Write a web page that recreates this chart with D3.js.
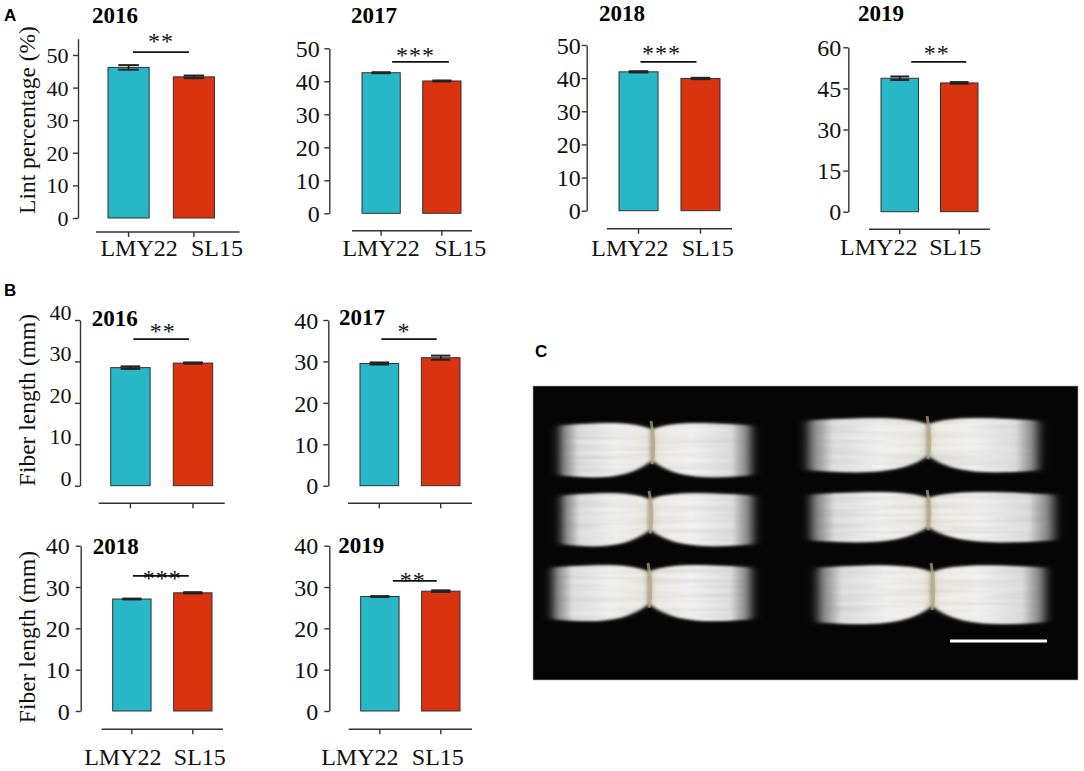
<!DOCTYPE html>
<html>
<head>
<meta charset="utf-8">
<script src="https://cdn.jsdelivr.net/npm/d3@7"></script>
<style>
body { margin: 0; background: #fff; }
svg text { font-family: "Liberation Serif", "Times New Roman", serif; }
</style>
</head>
<body>
<svg id="fig" width="1084" height="771"></svg>
<script>
// data
var groups = ["LMY22", "SL15"];

var lintYears = ["2016", "2017", "2018", "2019"];
var lintMeans = [[46.2, 43.3], [42.6, 40.1], [41.9, 39.9], [48.7, 47.0]];
var lintErrors = [[0.7, 0.4], [0.15, 0.15], [0.2, 0.2], [0.65, 0.3]];
var lintStars = ["**", "***", "***", "**"];
var lintSigLevel = [50.9, 45.9, 44.9, 54.7];
var lintTicks = [[0, 10, 20, 30, 40, 50], [0, 10, 20, 30, 40, 50], [0, 10, 20, 30, 40, 50], [0, 15, 30, 45, 60]];
var lintMax = [55, 50, 50, 60];

var fiberYears = ["2016", "2017", "2018", "2019"];
var fiberMeans = [[28.5, 29.6], [29.5, 30.9], [27.1, 28.6], [27.7, 29.0]];
var fiberErrors = [[0.3, 0.15], [0.25, 0.5], [0.1, 0.15], [0.1, 0.2]];
var fiberStars = ["**", "*", "***", "**"];
var fiberSigLevel = [35.4, 35.4, 32.7, 31.5];
var fiberTicks = [0, 10, 20, 30, 40];
var fiberMax = 40;

var colors = ["#27b7c7", "#d9340f"];

// panel placement (pixels)
var lintLayout = [
    {axisX: 78, y0: 218, yTop: 38.7, bars: [108, 214.5], ext: [12, 25], xAxisY: 232, title: [92, 23], tickFont: 22, pad: 4.5, tickDy: 0, starDx: 0, starDy: -3, sigDx: [4.5, -5], labelDx: [10.5, 23], labelY: 256},
    {axisX: 329.3, y0: 213.3, yTop: 48.3, bars: [362, 461], ext: [10, 11], xAxisY: 230.7, title: [351, 23], tickFont: 24, pad: 4.5, tickDy: 0, starDx: -5, starDy: 1, sigDx: [11, 7], labelDx: [0, 18.5], labelY: 256},
    {axisX: 586.7, y0: 210.7, yTop: 45, bars: [619, 720], ext: [12, 12], xAxisY: 228.7, title: [599, 21], tickFont: 24, pad: 1, tickDy: 0, starDx: -7, starDy: -1, sigDx: [2, -4], labelDx: [-8.6, 7.3], labelY: 256},
    {axisX: 848.3, y0: 211.7, yTop: 47.3, bars: [881, 978], ext: [12, 12], xAxisY: 229.3, title: [858, 21], tickFont: 24, pad: 2, tickDy: 0, starDx: -2, starDy: -1, sigDx: [11.5, 7], labelDx: [-21, -4], labelY: 255}
];
var fiberLayout = [
    {axisX: 80, y0: 485.7, yTop: 320, bars: [110.7, 212.7], ext: [12, 12], xAxisY: 503.3, title: [91.7, 326], tickFont: 22, pad: 3.5, tickDy: -8, starDx: 1.5, starDy: 0, sigDx: [3, -4], labelDx: null},
    {axisX: 328.3, y0: 485.7, yTop: 320, bars: [360, 460], ext: [12, 12], xAxisY: 503.3, title: [339, 325], tickFont: 24, pad: 5, tickDy: 0, starDx: -5, starDy: 0, sigDx: [2, -4], labelDx: null},
    {axisX: 80.7, y0: 711, yTop: 545.7, bars: [112.7, 212], ext: [11, 11], xAxisY: 729.3, title: [92.7, 554], tickFont: 24, pad: 6, tickDy: 0, starDx: 1.5, starDy: 10, sigDx: [1, -4], labelDx: [-9, 7], labelY: 765},
    {axisX: 329.3, y0: 711, yTop: 545.7, bars: [360.7, 460], ext: [12, 12], xAxisY: 729.3, title: [338.3, 553], tickFont: 24, pad: 6, tickDy: 0, starDx: -2, starDy: 7, sigDx: [13, -4], labelDx: [-20, -3], labelY: 765}
];

var svg = d3.select("#fig");

function drawPanel(L, year, means, errors, stars, sigLevel, ticks, max) {
    var g = svg.append("g");
    var x = d3.scaleBand().domain(groups).range(L.bars).paddingInner(0.37).paddingOuter(0);
    var y = d3.scaleLinear().domain([0, max]).range([L.y0, L.yTop]);
    var bw = x.bandwidth();

    // y axis
    var ya = g.append("g")
        .attr("transform", "translate(" + L.axisX + ",0)")
        .call(d3.axisLeft(y).tickValues(ticks).tickSize(5).tickSizeOuter(0).tickPadding(L.pad));
    ya.attr("font-family", null).attr("font-size", null);
    ya.selectAll("path, line").attr("stroke", "#333").attr("stroke-width", 1.4);
    ya.selectAll("text")
        .attr("font-size", L.tickFont)
        .attr("fill", "#111")
        .attr("dy", "0.34em")
        .attr("transform", "translate(0," + L.tickDy + ")");

    // x axis (line below the bars)
    var xa = g.append("g")
        .attr("transform", "translate(0," + L.xAxisY + ")")
        .call(d3.axisBottom(x).tickSize(5).tickSizeOuter(0).tickFormat(""));
    xa.select(".domain").attr("d", "M" + (L.bars[0] - L.ext[0]) + ",0H" + (L.bars[1] + L.ext[1]));
    xa.selectAll("path, line").attr("stroke", "#333").attr("stroke-width", 1.4);

    if (L.labelDx) {
        g.selectAll(".xlab")
            .data(groups)
            .enter()
            .append("text")
            .attr("x", function (d, i) { return x(d) + bw / 2 + L.labelDx[i]; })
            .attr("y", L.labelY)
            .attr("text-anchor", "middle")
            .attr("font-size", 24)
            .attr("fill", "#111")
            .text(function (d) { return d; });
    }

    // bars
    g.selectAll(".bar")
        .data(groups)
        .enter()
        .append("rect")
        .attr("x", function (d) { return x(d); })
        .attr("y", function (d, i) { return y(means[i]); })
        .attr("width", bw)
        .attr("height", function (d, i) { return y(0) - y(means[i]); })
        .attr("fill", function (d, i) { return colors[i]; })
        .attr("stroke", "#333")
        .attr("stroke-width", 1);

    // error bars
    groups.forEach(function (d, i) {
        var cx = x(d) + bw / 2;
        var lo = y(means[i] - errors[i]), hi = y(means[i] + errors[i]);
        g.append("line").attr("x1", cx).attr("x2", cx).attr("y1", lo).attr("y2", hi)
            .attr("stroke", "#111").attr("stroke-width", 1.5);
        [lo, hi].forEach(function (v) {
            g.append("line").attr("x1", cx - bw * 0.25).attr("x2", cx + bw * 0.25)
                .attr("y1", v).attr("y2", v)
                .attr("stroke", "#222").attr("stroke-width", 2);
        });
    });

    // significance
    var sx1 = x(groups[0]) + bw / 2 + L.sigDx[0];
    var sx2 = x(groups[1]) + bw / 2 + L.sigDx[1];
    var sy = y(sigLevel);
    g.append("line").attr("x1", sx1).attr("x2", sx2).attr("y1", sy).attr("y2", sy)
        .attr("stroke", "#111").attr("stroke-width", 1.8);
    g.append("text")
        .attr("x", (sx1 + sx2) / 2 + L.starDx)
        .attr("y", sy + L.starDy)
        .attr("text-anchor", "middle")
        .attr("font-size", 24)
        .attr("letter-spacing", 1)
        .attr("fill", "#111")
        .text(stars);

    // year title
    g.append("text")
        .attr("x", L.title[0])
        .attr("y", L.title[1])
        .attr("font-size", 23)
        .attr("font-weight", "bold")
        .attr("fill", "#000")
        .text(year);
}

lintLayout.forEach(function (L, i) {
    drawPanel(L, lintYears[i], lintMeans[i], lintErrors[i], lintStars[i], lintSigLevel[i], lintTicks[i], lintMax[i]);
});
fiberLayout.forEach(function (L, i) {
    drawPanel(L, fiberYears[i], fiberMeans[i], fiberErrors[i], fiberStars[i], fiberSigLevel[i], fiberTicks, fiberMax);
});

// axis titles
var yTitles = [["Lint percentage (%)", 27, 120], ["Fiber length (mm)", 27, 400], ["Fiber length (mm)", 27, 637]];
yTitles.forEach(function (t) {
    svg.append("text")
        .attr("transform", "translate(" + t[1] + "," + t[2] + ") rotate(-90)")
        .attr("text-anchor", "middle")
        .attr("dy", "0.35em")
        .attr("font-size", 23.5)
        .attr("fill", "#111")
        .text(t[0]);
});

// panel letters
[["A", 4, 21], ["B", 4, 296], ["C", 535, 357]].forEach(function (p) {
    svg.append("text")
        .attr("x", p[1]).attr("y", p[2])
        .style("font-size", "17px")
        .style("font-weight", "bold")
        .style("font-family", "'Liberation Sans', Arial, sans-serif")
        .text(p[0]);
});

// panel C: photo of fibre bundles, drawn with shapes
var defs = svg.append("defs");
function lobeGradient(id, flip) {
    var lg = defs.append("linearGradient").attr("id", id)
        .attr("x1", flip ? 1 : 0).attr("x2", flip ? 0 : 1).attr("y1", 0).attr("y2", 0);
    [[0, "#8a8a8a", 0.0], [0.08, "#c8c8c8", 0.55], [0.22, "#e8e8e8", 0.95], [0.6, "#f2f2f2", 1], [0.92, "#eeece6", 1], [1, "#ddd6c4", 1]]
        .forEach(function (s) {
            lg.append("stop").attr("offset", s[0]).attr("stop-color", s[1]).attr("stop-opacity", s[2]);
        });
}
lobeGradient("lobeL", false);
lobeGradient("lobeR", true);

var f = defs.append("filter").attr("id", "fuzz")
    .attr("x", "-8%").attr("y", "-20%").attr("width", "116%").attr("height", "140%");
f.append("feTurbulence").attr("type", "fractalNoise").attr("baseFrequency", "0.008 0.35")
    .attr("numOctaves", 2).attr("seed", 7).attr("result", "noise");
f.append("feColorMatrix").attr("in", "noise").attr("type", "matrix")
    .attr("values", "0 0 0 0 0  0 0 0 0 0  0 0 0 0 0  0.5 0 0 0 -0.2").attr("result", "streak");
f.append("feComposite").attr("in", "streak").attr("in2", "SourceGraphic").attr("operator", "in").attr("result", "streakIn");
var fm = f.append("feMerge").attr("result", "m");
fm.append("feMergeNode").attr("in", "SourceGraphic");
fm.append("feMergeNode").attr("in", "streakIn");
f.append("feGaussianBlur").attr("in", "m").attr("stdDeviation", "2 0.9");

defs.append("filter").attr("id", "halo").attr("x", "-15%").attr("y", "-30%").attr("width", "130%").attr("height", "160%")
    .append("feGaussianBlur").attr("stdDeviation", "5 2");

var photo = svg.append("g");
photo.append("rect")
    .attr("x", 533).attr("y", 386).attr("width", 545).attr("height", 294)
    .attr("fill", "#050505").attr("stroke", "#aaa").attr("stroke-width", 0.6);

// [left, right, top, bottom, waist]
var bundleBoxes = [
    [557, 754, 423, 478, 652], [805, 1041, 418, 473, 928],
    [559, 756, 493, 547, 650], [808, 1057, 492, 543, 928],
    [550, 754, 565, 622, 649], [815, 1048, 565, 625, 932]
];

// one half of a bundle: flat outer end, lower edge curving up into the pinched waist
function lobePath(xo, w, yt, yb, dir) {
    var h = yb - yt, len = Math.abs(w - xo);
    var p = d3.path();
    p.moveTo(xo, yt + 3);
    p.bezierCurveTo(xo + dir * len * 0.5, yt - 1, w - dir * 18, yt - 1, w, yt + h * 0.12);
    p.lineTo(w, yb - h * 0.32);
    p.bezierCurveTo(w - dir * 25, yb + 1, xo + dir * len * 0.45, yb + 1, xo, yb - 3);
    p.closePath();
    return p.toString();
}

bundleBoxes.forEach(function (b) {
    var bg = photo.append("g");
    var lp = lobePath(b[0], b[4], b[2], b[3], 1);
    var rp = lobePath(b[1], b[4], b[2], b[3], -1);
    [lp, rp].forEach(function (d) {
        bg.append("path").attr("d", d)
            .attr("fill", "#cfcfcf").attr("opacity", 0.3).attr("filter", "url(#halo)");
    });
    bg.append("path").attr("d", lp).attr("fill", "url(#lobeL)").attr("filter", "url(#fuzz)");
    bg.append("path").attr("d", rp).attr("fill", "url(#lobeR)").attr("filter", "url(#fuzz)");
    // tie at the waist
    var h = b[3] - b[2];
    bg.append("path")
        .attr("d", "M" + (b[4] - 1) + "," + (b[2] - 2) + " Q" + (b[4] + 4) + "," + (b[2] + h * 0.4) + " " + b[4] + "," + (b[3] - h * 0.25))
        .attr("fill", "none").attr("stroke", "#b8a883").attr("stroke-width", 3).attr("opacity", 0.7);
});

// scale bar
photo.append("rect").attr("x", 950).attr("y", 639.5).attr("width", 97).attr("height", 3).attr("fill", "#fff");
</script>
</body>
</html>
